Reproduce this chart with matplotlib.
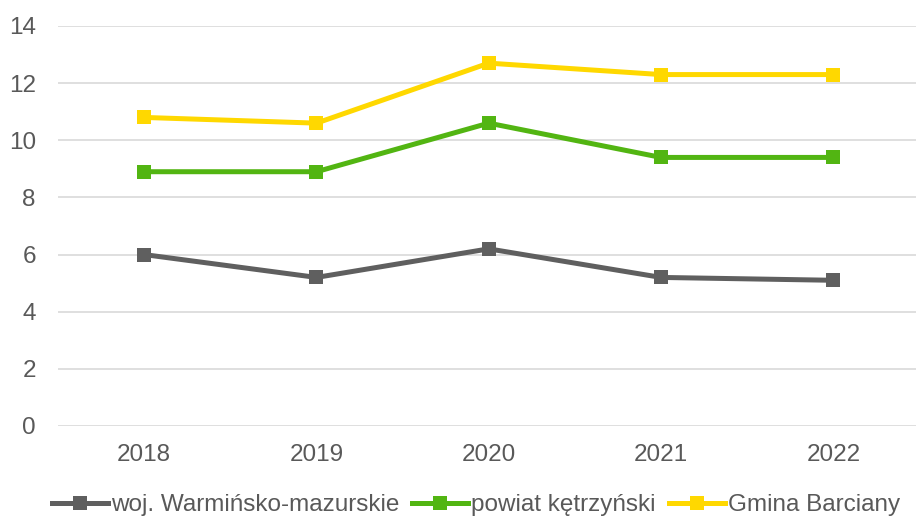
import matplotlib
matplotlib.use("Agg")
import matplotlib.pyplot as plt

years = ["2018", "2019", "2020", "2021", "2022"]
woj = [6.0, 5.2, 6.2, 5.2, 5.1]
powiat = [8.9, 8.9, 10.6, 9.4, 9.4]
gmina = [10.8, 10.6, 12.7, 12.3, 12.3]
labels = ["woj. Warmińsko-mazurskie", "powiat kętrzyński", "Gmina Barciany"]
colors = ["#5f5f5f", "#52b512", "#ffd800"]
yticks = [0, 2, 4, 6, 8, 10, 12, 14]

plt.rcParams['font.family'] = ['Liberation Sans', 'DejaVu Sans']

W, H = 916, 518
fig = plt.figure(figsize=(W / 100, H / 100), dpi=100)
ax = fig.add_axes([58 / W, 92 / H, 861.5 / W, 400 / H])

x = list(range(len(years)))
for vals, lab, col in zip([woj, powiat, gmina], labels, colors):
    ax.plot(x, vals, color=col, lw=3.6, marker='s', markersize=10.5,
            markeredgewidth=0, label=lab, solid_joinstyle='miter')

ax.set_xlim(-0.5, len(years) - 0.5)
ax.set_ylim(0, 14)
ax.set_yticks(yticks)
ax.set_yticklabels([str(v) for v in yticks])
ax.set_xticks(x)
ax.set_xticklabels(years)
ax.yaxis.grid(True, color="#d9d9d9", lw=1.2)
ax.set_axisbelow(True)
for s in ax.spines.values():
    s.set_visible(False)
ax.tick_params(axis='both', length=0, labelsize=17.5, colors="#595959")
ax.tick_params(axis='y', pad=16)
ax.tick_params(axis='x', pad=13)

leg = fig.legend(loc='center', bbox_to_anchor=(476 / W, 1 - 505 / H), ncol=3,
                 frameon=False, fontsize=17.5, handlelength=2.3,
                 handletextpad=0.12, columnspacing=0.55, borderaxespad=0)
for t in leg.get_texts():
    t.set_color("#595959")

fig.savefig("out.png", dpi=100)
